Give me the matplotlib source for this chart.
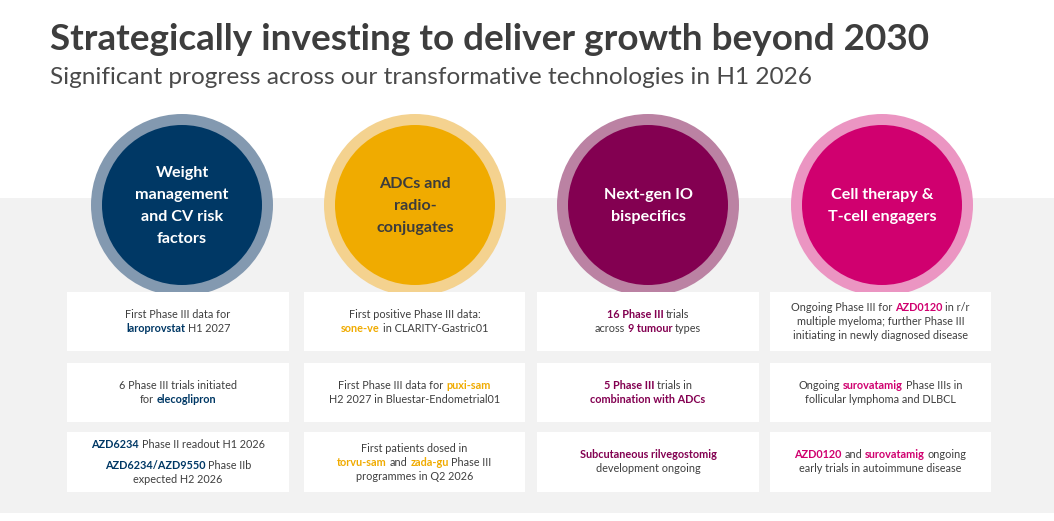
import matplotlib
matplotlib.use('Agg')
import matplotlib.pyplot as plt
from matplotlib.patches import Circle, Rectangle

plt.rcParams['font.family'] = ['Lato', 'DejaVu Sans']

TITLE = 'Strategically investing to deliver growth beyond 2030'
SUBTITLE = 'Significant progress across our transformative technologies in H1 2026'

THEMES = [
    ['Weight', 'management', 'and CV risk', 'factors'],
    ['ADCs and', 'radio-', 'conjugates'],
    ['Next-gen IO', 'bispecifics'],
    ['Cell therapy &', 'T-cell engagers'],
]
THEME_COLORS = ['#003865', '#f0ab00', '#830051', '#d0006f']
RING_COLORS = ['#8399b0', '#f4d28f', '#bb82a3', '#eb95c2']
THEME_TEXT = ['white', '#3c3c3c', 'white', 'white']

# each box: list of lines, each line a list of (text, highlighted)
# None marks a paragraph gap
BOXES = [
    [
        [[('First Phase III data for', 0)], [('laroprovstat', 1), ('H1 2027', 0)]],
        [[('6 Phase III trials initiated', 0)], [('for', 0), ('elecoglipron', 1)]],
        [[('AZD6234', 1), ('Phase II readout H1 2026', 0)], None,
         [('AZD6234/AZD9550', 1), ('Phase IIb', 0)], [('expected H2 2026', 0)]],
    ],
    [
        [[('First positive Phase III data:', 0)], [('sone-ve', 1), ('in CLARITY-Gastric01', 0)]],
        [[('First Phase III data for', 0), ('puxi-sam', 1)], [('H2 2027 in Bluestar-Endometrial01', 0)]],
        [[('First patients dosed in', 0)],
         [('torvu-sam', 1), ('and', 0), ('zada-gu', 1), ('Phase III', 0)],
         [('programmes in Q2 2026', 0)]],
    ],
    [
        [[('16 Phase III', 1), ('trials', 0)], [('across', 0), ('9 tumour', 1), ('types', 0)]],
        [[('5 Phase III', 1), ('trials in', 0)], [('combination with ADCs', 1)]],
        [[('Subcutaneous rilvegostomig', 1)], [('development ongoing', 0)]],
    ],
    [
        [[('Ongoing Phase III for', 0), ('AZD0120', 1), ('in r/r', 0)],
         [('multiple myeloma; further Phase III', 0)],
         [('initiating in newly diagnosed disease', 0)]],
        [[('Ongoing', 0), ('surovatamig', 1), ('Phase IIIs in', 0)],
         [('follicular lymphoma and DLBCL', 0)]],
        [[('AZD0120', 1), ('and', 0), ('surovatamig', 1), ('ongoing', 0)],
         [('early trials in autoimmune disease', 0)]],
    ],
]

TEXT_GREY = '#3f3f3f'
BAND_GREY = '#f2f2f2'

COL_X = [(67, 289), (304, 525), (537, 759), (770, 991)]
ROW_Y = [(292, 351), (363, 422), (432, 492)]
CIRCLE_CX = [182, 415, 648, 882]
CIRCLE_CY = 205
R_OUT, R_IN = 91, 80

fig = plt.figure(figsize=(10.54, 5.21), dpi=100)
ax = fig.add_axes([0, 0, 1, 1])
ax.set_xlim(0, 1054)
ax.set_ylim(521, 0)
ax.axis('off')
renderer = fig.canvas.get_renderer()


def text_width(t):
    return t.get_window_extent(renderer).width


def fit_text(x, y, s, width, **kw):
    t = ax.text(x, y, s, fontsize=20, **kw)
    t.set_fontsize(20 * width / text_width(t))
    return t


def rich_line(cx, y, segs, hi_color, size):
    probe = ax.text(0, 0, 'x x', fontsize=size)
    probe2 = ax.text(0, 0, 'xx', fontsize=size)
    space = text_width(probe) - text_width(probe2)
    probe.remove()
    probe2.remove()
    items = []
    for s, hi in segs:
        t = ax.text(0, y, s, fontsize=size, va='center', ha='left',
                    fontweight='bold' if hi else 'normal',
                    color=hi_color if hi else TEXT_GREY)
        items.append((t, text_width(t)))
    total = sum(w for _, w in items) + space * (len(items) - 1)
    x = cx - total / 2
    for t, w in items:
        t.set_x(x)
        x += w + space


# background band
ax.add_patch(Rectangle((0, 198), 1054, 315, color=BAND_GREY, lw=0))

# titles
fit_text(50, 40, TITLE, 881, fontweight='bold', color='#3d3d3d', va='center')
fit_text(50, 77, SUBTITLE, 760, color='#4a4a4a', va='center')

# circles
for i, cx in enumerate(CIRCLE_CX):
    ax.add_patch(Circle((cx, CIRCLE_CY), R_OUT, color=RING_COLORS[i], lw=0))
    ax.add_patch(Circle((cx, CIRCLE_CY), R_IN, color=THEME_COLORS[i], lw=0))
    lines = THEMES[i]
    step = 21.8
    y0 = CIRCLE_CY + 1 - step * (len(lines) - 1) / 2
    for j, line in enumerate(lines):
        ax.text(cx, y0 + j * step, line, ha='center', va='center',
                fontsize=11.6, fontweight='bold', color=THEME_TEXT[i])

# boxes
for c, (x0, x1) in enumerate(COL_X):
    for r, (y0, y1) in enumerate(ROW_Y):
        ax.add_patch(Rectangle((x0, y0), x1 - x0, y1 - y0, color='white', lw=0))
        lines = BOXES[c][r]
        n = sum(7 if l is None else 14 for l in lines) - 14
        y = (y0 + y1) / 2 - n / 2
        for l in lines:
            if l is None:
                y += 7
                continue
            rich_line((x0 + x1) / 2, y, l, THEME_COLORS[c], 7.8)
            y += 14

fig.savefig('out.png', dpi=100)
